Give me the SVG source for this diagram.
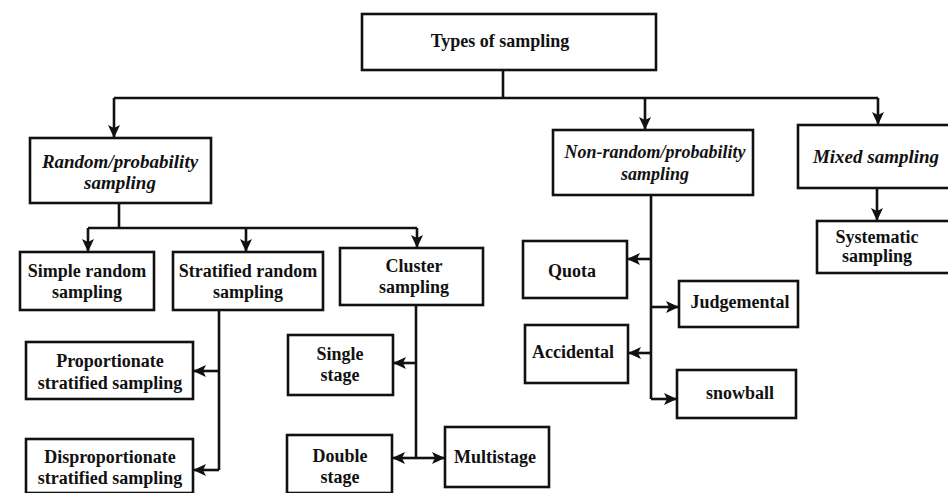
<svg xmlns="http://www.w3.org/2000/svg" width="948" height="493" viewBox="0 0 948 493">
<style>
.box{fill:#fff;stroke:#111;stroke-width:2.6}
.t{font-family:"Liberation Serif","Times New Roman",serif;font-weight:bold;font-size:18px;fill:#111;text-anchor:middle}
.i{font-style:italic;font-size:19px}
.s{font-size:18px}
.c{fill:none;stroke:#111;stroke-width:2.6}
.a{marker-end:url(#ah)}
</style>
<defs>
<marker id="ah" markerUnits="userSpaceOnUse" markerWidth="14" markerHeight="12" refX="13" refY="6" orient="auto">
<path d="M0,0 L13,6 L0,12 L3,6 z" fill="#111"/>
</marker>
</defs>
<rect width="948" height="493" fill="#fff"/>
<g id="connectors">
<path class="c" d="M503 70 V98 M114 98 H878"/>
<path class="c a" d="M114 98 V138"/>
<path class="c a" d="M645 98 V130"/>
<path class="c a" d="M878 98 V125"/>
<path class="c a" d="M877 188 V221"/>
<path class="c" d="M119 203 V228 M88 228 H417"/>
<path class="c a" d="M88 228 V252"/>
<path class="c a" d="M246 228 V252"/>
<path class="c a" d="M417 228 V248"/>
<path class="c" d="M219 310 V470"/>
<path class="c a" d="M219 371 H193"/>
<path class="c a" d="M219 470 H193"/>
<path class="c" d="M416 305 V458"/>
<path class="c a" d="M416 363 H393"/>
<path class="c a" d="M416 458 H392"/>
<path class="c a" d="M416 458 H445"/>
<path class="c" d="M651 195 V399"/>
<path class="c a" d="M651 259 H627"/>
<path class="c a" d="M651 307 H679"/>
<path class="c a" d="M651 353 H628"/>
<path class="c a" d="M651 399 H677"/>
</g>
<g id="types"><rect class="box" x="362" y="14" width="294" height="56"/><text class="t" x="500" y="47">Types of sampling</text></g>
<g id="random"><rect class="box" x="30" y="138" width="181" height="65"/><text class="t i" x="120" y="168">Random/probability</text><text class="t i" x="120" y="189">sampling</text></g>
<g id="nonrandom"><rect class="box" x="553" y="130" width="200" height="65"/><text class="t i s" x="655" y="158">Non-random/probability</text><text class="t i s" x="655" y="180">sampling</text></g>
<g id="mixed"><rect class="box" x="798" y="125" width="152" height="63"/><text class="t i" x="876" y="163">Mixed sampling</text></g>
<g id="systematic"><rect class="box" x="817" y="221" width="133" height="52"/><text class="t" x="877" y="243">Systematic</text><text class="t" x="877" y="262">sampling</text></g>
<g id="simple"><rect class="box" x="20" y="252" width="134" height="58"/><text class="t" x="87" y="277">Simple random</text><text class="t" x="87" y="298">sampling</text></g>
<g id="stratified"><rect class="box" x="173" y="252" width="150" height="58"/><text class="t" x="248" y="277">Stratified random</text><text class="t" x="248" y="298">sampling</text></g>
<g id="cluster"><rect class="box" x="340" y="248" width="143" height="57"/><text class="t" x="414" y="272">Cluster</text><text class="t" x="414" y="293">sampling</text></g>
<g id="proportionate"><rect class="box" x="26" y="342" width="167" height="57"/><text class="t" x="110" y="367">Proportionate</text><text class="t" x="110" y="389">stratified sampling</text></g>
<g id="disproportionate"><rect class="box" x="26" y="439" width="167" height="54"/><text class="t" x="110" y="463">Disproportionate</text><text class="t" x="110" y="484">stratified sampling</text></g>
<g id="single"><rect class="box" x="288" y="335" width="105" height="60"/><text class="t" x="340" y="360">Single</text><text class="t" x="340" y="381">stage</text></g>
<g id="double"><rect class="box" x="287" y="435" width="105" height="58"/><text class="t" x="340" y="462">Double</text><text class="t" x="340" y="483">stage</text></g>
<g id="multistage"><rect class="box" x="445" y="427" width="104" height="60"/><text class="t" x="495" y="463">Multistage</text></g>
<g id="quota"><rect class="box" x="523" y="241" width="104" height="57"/><text class="t" x="572" y="277">Quota</text></g>
<g id="judgemental"><rect class="box" x="679" y="281" width="119" height="46"/><text class="t" x="740" y="308">Judgemental</text></g>
<g id="accidental"><rect class="box" x="525" y="325" width="103" height="58"/><text class="t" x="573" y="358">Accidental</text></g>
<g id="snowball"><rect class="box" x="677" y="370" width="119" height="48"/><text class="t" x="740" y="399">snowball</text></g>
</svg>
